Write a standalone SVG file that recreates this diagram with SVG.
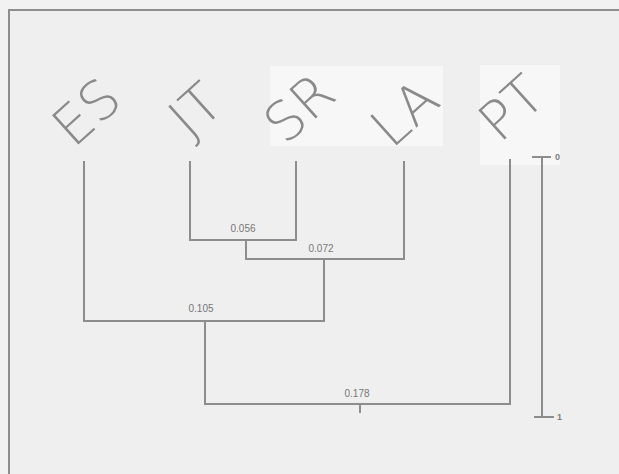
<svg xmlns="http://www.w3.org/2000/svg" width="619" height="474" viewBox="0 0 619 474">
<style>
.ln{stroke:#8d8d8d;stroke-width:2;fill:none;stroke-linecap:square}
.lbl{font-family:"DejaVu Sans","Liberation Sans",sans-serif;font-weight:200;font-size:54px;fill:#8a8a8a;text-anchor:middle}
.num{font-family:"Liberation Sans Narrow","Liberation Sans",sans-serif;font-size:10px;fill:#777;text-anchor:middle}
.sc{font-family:"Liberation Sans",sans-serif;font-size:9px;font-weight:bold;fill:#808080}
</style>
<rect x="0" y="0" width="619" height="474" fill="#f2f2f2"/>
<rect x="9" y="10" width="700" height="600" fill="#efefef" stroke="#8e8e8e" stroke-width="2"/>
<rect x="270" y="66" width="173" height="80" fill="#f7f7f7"/>
<rect x="480" y="65" width="80" height="100" fill="#f7f7f7"/>
<g id="ES"><text class="lbl" transform="translate(99,126) rotate(-42)">ES</text></g>
<g id="JT"><text class="lbl" transform="translate(208,124) rotate(-42)">JT</text></g>
<g id="SR"><text class="lbl" transform="translate(312,122) rotate(-42)">SR</text></g>
<g id="LA"><text class="lbl" transform="translate(417,127) rotate(-42)">LA</text></g>
<g id="PT"><text class="lbl" transform="translate(524,122) rotate(-42)">PT</text></g>
<g id="connectors">
<path class="ln" d="M190,162 V240 H296 V162"/>
<path class="ln" d="M246,240 V259 M246,259 H404 V162"/>
<path class="ln" d="M324,259 V321 M84,162 V321 H324"/>
<path class="ln" d="M205,321 V404 H510 V160"/>
<path class="ln" d="M360,404 V412"/>
</g>
<g id="labels">
<text class="num" x="243" y="232">0.056</text>
<text class="num" x="321" y="252">0.072</text>
<text class="num" x="201" y="312">0.105</text>
<text class="num" x="357" y="397">0.178</text>
</g>
<g id="scale">
<path class="ln" d="M533,157 H550 M542,157 V417 M535,417 H553"/>
<text class="sc" x="555" y="160">0</text>
<text class="sc" x="557" y="420">1</text>
</g>
</svg>
